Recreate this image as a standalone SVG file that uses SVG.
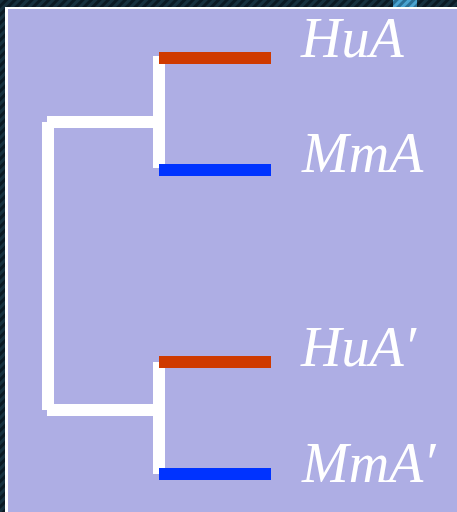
<svg xmlns="http://www.w3.org/2000/svg" width="457" height="512" viewBox="0 0 457 512">
  <defs>
    <pattern id="stripes" width="6" height="6" patternUnits="userSpaceOnUse" patternTransform="rotate(45)">
      <rect width="6" height="6" fill="#0b1a24"/>
      <rect width="3" height="6" fill="#17313f"/>
    </pattern>
    <pattern id="stripesBlue" width="6" height="6" patternUnits="userSpaceOnUse" patternTransform="rotate(45)">
      <rect width="6" height="6" fill="#2a6f95"/>
      <rect width="3" height="6" fill="#4aa3d0"/>
    </pattern>
    <style>
      .branch { fill: #ffffff; }
      .hu { fill: #cf3a00; }
      .mm { fill: #0033ff; }
      .label { font-family: "Liberation Serif", "Times New Roman", serif; font-style: italic; font-size: 56px; fill: #ffffff; }
    </style>
  </defs>
  <rect x="0" y="0" width="457" height="512" fill="url(#stripes)"/>
  <rect x="393" y="0" width="24" height="7" fill="url(#stripesBlue)"/>
  <rect x="5" y="7" width="452" height="505" fill="#ffffff"/>
  <rect x="8" y="9" width="449" height="503" fill="#aeaee4"/>

  <g id="connectors">
    <rect class="branch" x="42" y="122" width="12" height="288"/>
    <rect class="branch" x="47" y="116" width="118" height="12"/>
    <rect class="branch" x="47" y="404" width="118" height="12"/>
    <rect class="branch" x="153" y="56" width="12" height="112"/>
    <rect class="branch" x="153" y="362" width="12" height="112"/>
  </g>

  <g id="HuA">
    <rect class="hu" x="159" y="52" width="112" height="12"/>
    <text class="label" x="301" y="57">HuA</text>
  </g>
  <g id="MmA">
    <rect class="mm" x="159" y="164" width="112" height="12"/>
    <text class="label" x="302" y="172">MmA</text>
  </g>
  <g id="HuA-prime">
    <rect class="hu" x="159" y="356" width="112" height="12"/>
    <text class="label" x="301" y="366">HuA′</text>
  </g>
  <g id="MmA-prime">
    <rect class="mm" x="159" y="468" width="112" height="12"/>
    <text class="label" x="302" y="482">MmA′</text>
  </g>
</svg>
